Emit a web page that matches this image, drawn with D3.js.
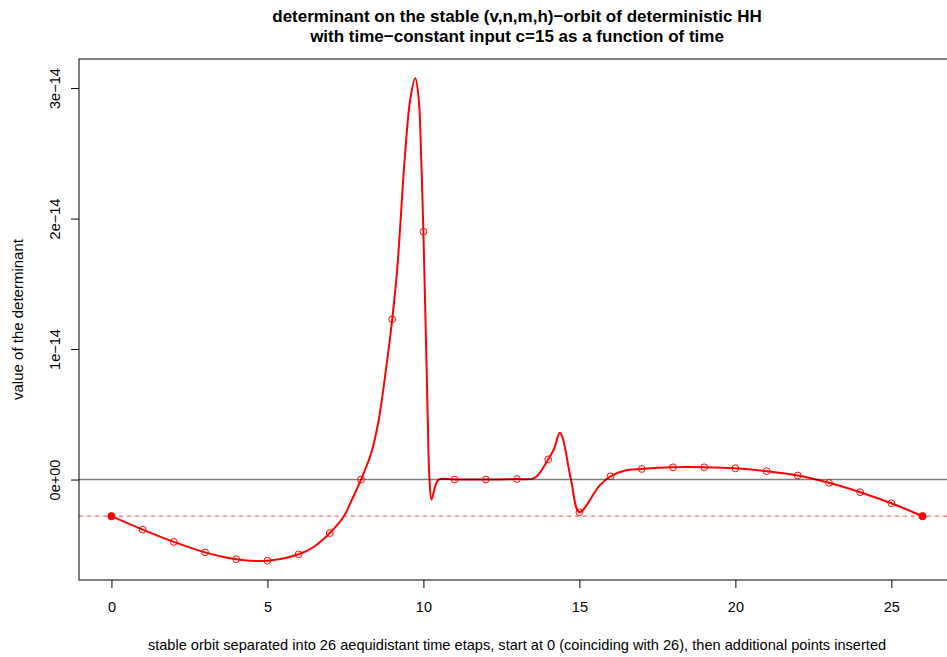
<!DOCTYPE html>
<html>
<head>
<meta charset="utf-8">
<script src="https://cdn.jsdelivr.net/npm/d3@7"></script>
<style>
html,body{margin:0;padding:0;background:#fff;}
svg{display:block;font-family:"Liberation Sans",Arial,Helvetica,sans-serif;}
</style>
</head>
<body>
<svg id="chart" width="947" height="657"></svg>
<script>
// ---- data (values in units of 1e-14) ----
const stepT = [0,1,2,3,4,5,6,7,8,9,10,11,12,13,14,15,16,17,18,19,20,21,22,23,24,25,26];
const stepV = [-0.281,-0.384,-0.478,-0.558,-0.611,-0.622,-0.573,-0.410,0.0,1.228,1.899,0.0,0.0,0.004,0.155,-0.250,0.025,0.081,0.094,0.094,0.086,0.064,0.031,-0.025,-0.097,-0.182,-0.281];

const lineT = [0,1,2,3,4,5,6,6.48,7,7.45,7.71,8,8.33,8.57,8.80,9.0,9.16,9.40,9.58,9.74,9.85,9.93,10.0,10.14,10.19,10.26,10.38,10.49,11,12,13,13.48,13.64,14.0,14.18,14.37,14.45,14.73,15.0,15.65,16,16.47,17,18,19,20,21,22,23,24,25,26];
const lineV = [-0.281,-0.384,-0.478,-0.558,-0.611,-0.622,-0.573,-0.517,-0.410,-0.281,-0.153,0.0,0.205,0.460,0.844,1.228,1.611,2.455,2.916,3.075,2.916,2.455,1.899,0.460,0.025,-0.153,-0.051,0.0,0.0,0.0,0.004,0.005,0.025,0.155,0.230,0.358,0.330,0.0,-0.250,-0.045,0.025,0.069,0.081,0.094,0.094,0.086,0.064,0.031,-0.025,-0.097,-0.182,-0.281];

const xTicks = [0,5,10,15,20,25];
const yTicks = [0,1,2,3];
const yTickLabels = ["0e+00","1e\u221214","2e\u221214","3e\u221214"];
const refLevel = stepV[0];

const titleLines = ["determinant on the stable (v,n,m,h)\u2212orbit of deterministic HH",
                    "with time\u2212constant input c=15 as a function of time"];
const xTitle = "stable orbit separated into 26 aequidistant time etaps, start at 0 (coinciding with 26), then additional points inserted";
const yTitle = "value of the determinant";

// ---- layout ----
const svg = d3.select("#chart");
const L = 79, R = 955, T = 59, B = 580;

const tMin = d3.min(lineT), tMax = d3.max(lineT);
const vMin = d3.min(lineV), vMax = d3.max(lineV);
const tPad = (tMax - tMin) * 0.04, vPad = (vMax - vMin) * 0.04;
const x = d3.scaleLinear().domain([tMin - tPad, tMax + tPad]).range([L, R]);
const y = d3.scaleLinear().domain([vMin - vPad, vMax + vPad]).range([B, T]);

const line = d3.line().x((d,i)=>x(lineT[i])).y((d,i)=>y(lineV[i])).curve(d3.curveCatmullRom.alpha(0.5));

// reference dashed line
svg.append("line")
  .attr("x1", L).attr("x2", R).attr("y1", y(refLevel)).attr("y2", y(refLevel))
  .attr("stroke", "rgba(255,0,0,0.5)").attr("stroke-width", 1.5).attr("stroke-dasharray", "4,4");

// main curve
svg.append("path").datum(lineT)
  .attr("d", line).attr("fill", "none").attr("stroke", "#ff0000").attr("stroke-width", 2)
  .attr("stroke-linejoin", "round");

// zero line
svg.append("line")
  .attr("x1", L).attr("x2", R).attr("y1", y(0)).attr("y2", y(0))
  .attr("stroke", "rgba(0,0,0,0.5)").attr("stroke-width", 1.5);

// points
svg.append("g").selectAll("circle").data(stepT).join("circle")
  .attr("cx", d => x(d)).attr("cy", (d,i) => y(stepV[i]))
  .attr("r", (d,i) => (i===0 || i===stepT.length-1) ? 3.6 : 3.4)
  .attr("fill", (d,i) => (i===0 || i===stepT.length-1) ? "#ff0000" : "none")
  .attr("stroke", "#ff0000").attr("stroke-width", 1);

// box
svg.append("rect").attr("x", L).attr("y", T).attr("width", R - L).attr("height", B - T)
  .attr("fill", "none").attr("stroke", "#000").attr("stroke-width", 1);

// x axis
const xAxis = d3.axisBottom(x).tickValues(xTicks).tickSize(8).tickPadding(14).tickFormat(d3.format("d"));
const gx = svg.append("g").attr("transform", `translate(0,${B})`).call(xAxis);
gx.select(".domain").remove();
gx.selectAll("text").attr("font-size", 14.5).attr("fill", "#000").attr("font-family", "Liberation Sans, Arial, sans-serif");
gx.selectAll("line").attr("stroke", "#000");

// y axis
const yAxis = d3.axisLeft(y).tickValues(yTicks).tickSize(8).tickFormat((d,i) => yTickLabels[i]);
const gy = svg.append("g").attr("transform", `translate(${L},0)`).call(yAxis);
gy.select(".domain").remove();
gy.selectAll("line").attr("stroke", "#000");
gy.selectAll("text")
  .attr("font-size", 14.5).attr("fill", "#000").attr("font-family", "Liberation Sans, Arial, sans-serif")
  .attr("x", null).attr("dy", null)
  .attr("text-anchor", "middle")
  .attr("transform", "translate(-19,0) rotate(-90)");

// titles
svg.append("g").selectAll("text").data(titleLines).join("text")
  .attr("x", (L + R) / 2).attr("y", (d,i) => 22 + i * 19.5)
  .attr("text-anchor", "middle").attr("font-weight", "bold").attr("font-size", 17)
  .text(d => d);

svg.append("text").attr("x", (L + R) / 2).attr("y", 650)
  .attr("text-anchor", "middle").attr("font-size", 14.6).text(xTitle);

svg.append("text").attr("transform", `translate(23,${(T + B) / 2}) rotate(-90)`)
  .attr("text-anchor", "middle").attr("font-size", 15).text(yTitle);
</script>
</body>
</html>
